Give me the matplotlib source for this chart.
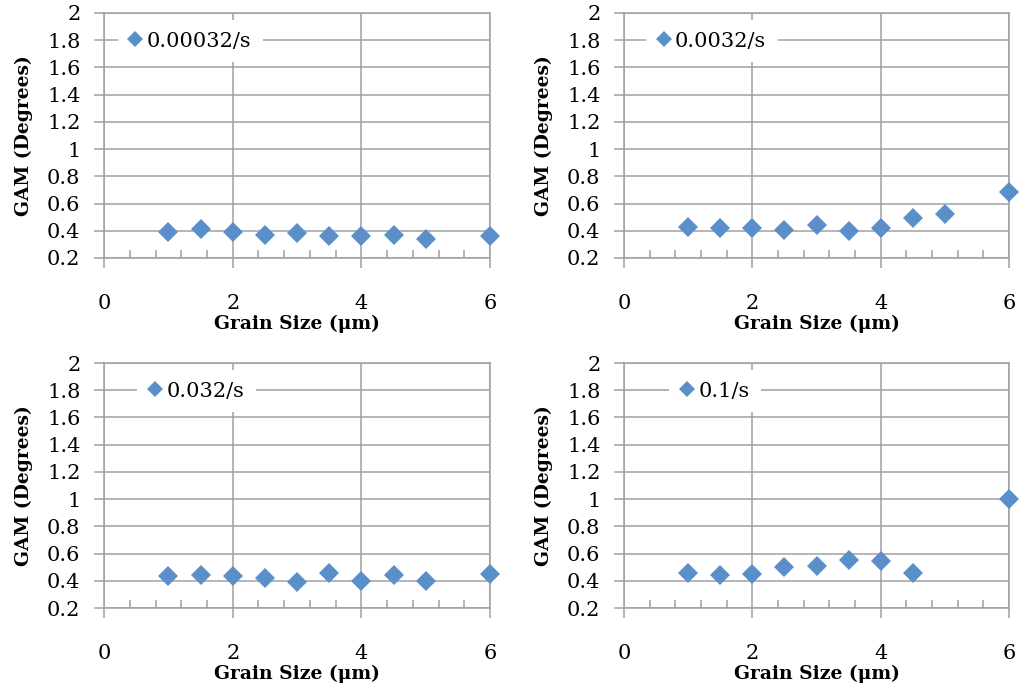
import matplotlib

matplotlib.use("Agg")
import matplotlib.pyplot as plt
from matplotlib.ticker import MultipleLocator

# ── Data ───────────────────────────────────────────────────
grain_size = [1.0, 1.5, 2.0, 2.5, 3.0, 3.5, 4.0, 4.5, 5.0, 6.0]
grain_size_fast = [1.0, 1.5, 2.0, 2.5, 3.0, 3.5, 4.0, 4.5, 6.0]

gam_00032 = [0.39, 0.41, 0.39, 0.37, 0.385, 0.36, 0.36, 0.37, 0.34, 0.365]
gam_0032 = [0.425, 0.417, 0.417, 0.405, 0.442, 0.40, 0.422, 0.493, 0.52, 0.683]
gam_032 = [0.437, 0.442, 0.437, 0.417, 0.393, 0.454, 0.40, 0.444, 0.40, 0.452]
gam_1 = [0.459, 0.444, 0.452, 0.504, 0.506, 0.553, 0.548, 0.454, 1.0]

rates = ["0.00032/s", "0.0032/s", "0.032/s", "0.1/s"]

MARKER_COLOR = "#5B8FC9"
GRID_COLOR = "#A0A0A0"
FONT = "DejaVu Serif"

plt.rcParams["font.family"] = FONT
plt.rcParams["font.size"] = 15

fig = plt.figure(figsize=(10.21, 6.9), dpi=100)

# panel boxes in figure fractions: left, bottom, width, height
boxes = [
    (0.1019, 0.6261, 0.3781, 0.3551),
    (0.6112, 0.6261, 0.3771, 0.3551),
    (0.1019, 0.1188, 0.3781, 0.3551),
    (0.6112, 0.1188, 0.3771, 0.3551),
]
series = [
    (grain_size, gam_00032),
    (grain_size, gam_0032),
    (grain_size, gam_032),
    (grain_size_fast, gam_1),
]
legend_x = [0.223, 0.228, 0.24, 0.236]

for box, (xs, ys), rate, lx in zip(boxes, series, rates, legend_x):
    ax = fig.add_axes(box)
    ax.plot(
        xs,
        ys,
        linestyle="none",
        marker="D",
        markersize=10,
        color=MARKER_COLOR,
        markeredgewidth=0,
        label=rate,
        zorder=3,
        clip_on=False,
    )
    ax.set_xlim(0, 6)
    ax.set_ylim(0.2, 2.0)
    ax.xaxis.set_major_locator(MultipleLocator(2))
    ax.xaxis.set_minor_locator(MultipleLocator(0.4))
    ax.yaxis.set_major_locator(MultipleLocator(0.2))
    ax.yaxis.set_major_formatter(lambda v, p: f"{v:g}")

    ax.grid(True, which="major", color=GRID_COLOR, linewidth=1.1)
    ax.set_axisbelow(True)
    for side in ["left", "bottom", "top", "right"]:
        ax.spines[side].set_color(GRID_COLOR)
        ax.spines[side].set_linewidth(1.1)

    ax.tick_params(
        axis="x", which="major", direction="out", length=7, width=1.1,
        color=GRID_COLOR, pad=19, labelsize=15,
    )
    ax.tick_params(
        axis="x", which="minor", direction="in", length=6, width=1.1,
        color=GRID_COLOR,
    )
    ax.tick_params(
        axis="y", which="major", direction="out", length=7, width=1.1,
        color=GRID_COLOR, pad=10, labelsize=15,
    )

    ax.set_xlabel("Grain Size (μm)", fontweight="bold", fontsize=13.5, va="center")
    ax.xaxis.set_label_coords(0.5, -0.268)
    ax.set_ylabel("GAM (Degrees)", fontweight="bold", fontsize=13.5, va="center")
    ax.yaxis.set_label_coords(-0.207, 0.5)

    ax.legend(
        loc="center",
        bbox_to_anchor=(lx, 0.885),
        frameon=True,
        framealpha=1,
        edgecolor="none",
        facecolor="white",
        fancybox=False,
        markerscale=0.8,
        handlelength=0.6,
        handletextpad=0.25,
        borderpad=0.55,
        borderaxespad=0,
        fontsize=15,
    )

fig.savefig("out.png", dpi=100)
